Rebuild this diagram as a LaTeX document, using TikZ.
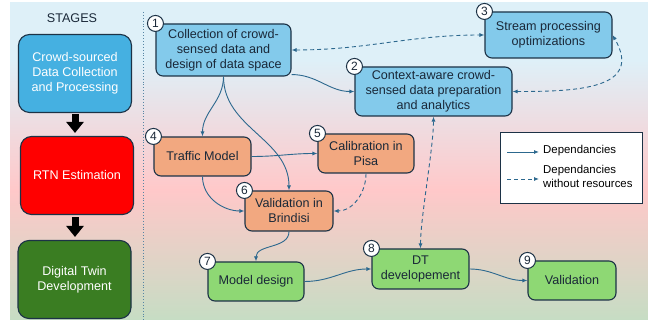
\documentclass[tikz,border=0pt]{standalone}
\usepackage{fontspec}
\setmainfont{Liberation Sans}
\usetikzlibrary{arrows.meta}

\definecolor{bgblue}{RGB}{222,240,248}
\definecolor{bgpink}{RGB}{255,200,201}
\definecolor{bggreen}{RGB}{198,221,196}
\definecolor{boxline}{RGB}{28,50,70}
\definecolor{txtdark}{RGB}{26,40,56}
\definecolor{edgeblue}{RGB}{44,104,142}
\definecolor{lightblue}{RGB}{131,202,235}
\definecolor{orangebox}{RGB}{242,168,128}
\definecolor{greenbox}{RGB}{142,216,116}
\definecolor{stageblue}{RGB}{69,176,225}
\definecolor{stagegreen}{RGB}{58,125,34}

\begin{document}
\begin{tikzpicture}[x=1pt, y=1pt,
    every node/.style={font=\fontsize{12.6}{15}\selectfont, text=txtdark},
    box/.style={draw=boxline, line width=1.1pt, rounded corners=7pt, align=center, inner sep=1pt},
    bluebox/.style={box, fill=lightblue},
    orangebox/.style={box, fill=orangebox},
    greenbox/.style={box, fill=greenbox},
    stagebox/.style={box, text=white, minimum width=113pt, minimum height=78pt, rounded corners=11pt},
    num/.style={circle, draw=boxline, fill=white, line width=1pt, minimum size=16pt, inner sep=0pt,
      font=\fontsize{12}{12}\selectfont},
    dep/.style={draw=edgeblue, line width=0.9pt, -{Latex[length=5pt,width=4pt]}},
    dep2/.style={dep, dashed, dash pattern=on 4pt off 3pt, {Latex[length=5pt,width=4pt]}-{Latex[length=5pt,width=4pt]}},
    stagearrow/.style={draw=black, line width=7pt, -{Triangle[length=11pt,width=17pt]}},
    legfont/.style={font=\fontsize{11.4}{14}\selectfont, text=black}]

\useasboundingbox (0,0) rectangle (648,323);

% background
\fill[bgblue] (10,263) rectangle (648,321);
\shade[top color=bgblue, bottom color=bgpink] (10,133) rectangle (648,263.2);
\shade[top color=bgpink, bottom color=bggreen] (10,3) rectangle (648,133.2);
\draw[edgeblue!80, line width=0.9pt, dotted] (143,311) -- (143,3);

% stages
\node (title) at (72,305) {STAGES};
\node (st1) [stagebox, fill=stageblue] at (75,249.5) {Crowd-sourced\\Data Collection\\and Processing};
\node (st2) [stagebox, fill=red] at (77,147.5) {RTN Estimation};
\node (st3) [stagebox, fill=stagegreen] at (74.5,43.5) {Digital Twin\\Development};
\draw[stagearrow, shorten <=1pt, shorten >=3pt] (st1.south) -- (st1.south |- st2.north);
\draw[stagearrow, shorten <=2pt, shorten >=3pt] (st2.south -| st1.south) -- (st1.south |- st3.north);

% tasks
\node (1) [bluebox, minimum width=135pt, minimum height=52pt] at (223.5,273) {Collection of crowd-\\sensed data and\\design of data space};
\node (2) [bluebox, minimum width=157pt, minimum height=49pt] at (433.5,231.5) {Context-aware crowd-\\sensed data preparation\\and analytics};
\node (3) [bluebox, minimum width=127pt, minimum height=46pt] at (548.5,288) {Stream processing\\optimizations};
\node (4) [orangebox, minimum width=97pt, minimum height=39pt] at (202.5,166.5) {Traffic Model};
\node (5) [orangebox, minimum width=96pt, minimum height=39pt] at (366,169.5) {Calibration in\\Pisa};
\node (6) [orangebox, minimum width=88pt, minimum height=40pt] at (289,112) {Validation in\\Brindisi};
\node (7) [greenbox, minimum width=96pt, minimum height=39pt] at (256,41.5) {Model design};
\node (8) [greenbox, minimum width=97pt, minimum height=40pt] at (420.5,54) {DT\\developement};
\node (9) [greenbox, minimum width=88pt, minimum height=39pt] at (572,42.5) {Validation};

\foreach \n in {1,...,9}
  \node (c\n) [num] at (\n.north west) {\n};

\path
  ([yshift=2pt]1.south east) edge [dep, out=0, in=180] (2.west)
  (1.east) edge [dep2, out=0, in=180] (3.west)
  (2.east) edge [dep2, out=0, in=-60, looseness=1.4] (3.east)
  (1.south) edge [dep, out=-90, in=90] (4.north)
  (1.south) edge [dep, out=-90, in=90] (6.north)
  (4.east) edge [dep, out=0, in=180] (5.west)
  (4.south) edge [dep, out=-90, in=180] (6.west)
  (5.south) edge [dep, dashed, dash pattern=on 4pt off 3pt, out=-90, in=0] (6.east)
  (6.south) edge [dep, out=-90, in=90] (7.north)
  (7.east) edge [dep, out=0, in=180] (8.west)
  (8.east) edge [dep, out=0, in=180] (9.west)
  (8.north) edge [dep2, out=90, in=-90, looseness=0.6] (2.south);

% legend
\node (leg) [draw=boxline, line width=1pt, fill=white, minimum width=142pt, minimum height=71pt] at (571,154.5) {};
\coordinate (a1) at (507,171);
\coordinate (b1) at (539,171);
\coordinate (a2) at (507,144);
\coordinate (b2) at (539,144);
\path
  (a1) edge [dep] (b1)
  (a2) edge [dep, dashed, dash pattern=on 4pt off 3pt] (b2);
\node (l1) [legfont, anchor=west, inner sep=0pt] at (543,172) {Dependancies};
\node (l2) [legfont, anchor=west, align=left, inner sep=0pt] at (543,147) {Dependancies\\without resources};
\end{tikzpicture}
\end{document}
